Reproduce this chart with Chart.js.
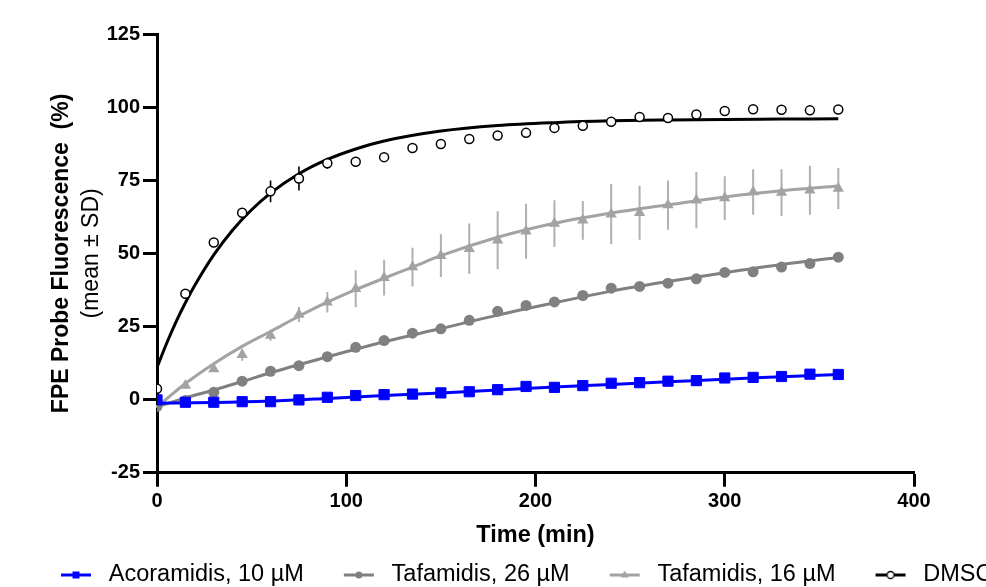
<!DOCTYPE html>
<html><head><meta charset="utf-8">
<script src="https://cdn.jsdelivr.net/npm/chart.js@4.4.1/dist/chart.umd.min.js"></script>
<style>html,body{margin:0;padding:0;overflow:hidden;background:#fff;width:986px;height:587px}canvas{display:block}</style>
</head><body>
<canvas id="c" width="1200" height="600"></canvas>
<script>
// ---- data ----
const times = [0,15,30,45,60,75,90,105,120,135,150,165,180,195,210,225,240,255,270,285,300,315,330,345,360];
const acoramidis = [-0.1,-0.9,-0.9,-0.7,-0.7,-0.1,0.8,1.4,1.7,1.9,2.3,2.7,3.4,4.5,4.2,4.8,5.6,5.8,6.3,6.5,7.4,7.6,7.9,8.7,8.6];
const tafamidis26 = [-2.3,-0.3,2.5,6.3,9.7,11.6,14.7,17.9,20.2,22.7,24.2,27.1,30.2,32.2,33.4,35.6,38.1,38.7,39.8,41.3,43.5,43.7,45.3,46.5,48.7];
const tafamidis16 = [-2.3,4.8,10.5,15.3,21.9,29.1,33.3,37.9,41.7,45.3,49.2,51.6,54.5,57.6,60.2,61.3,63.4,63.9,66.5,68.2,68.9,71.0,70.8,71.6,72.2];
const tafamidis16Sd = [0.5,1,1,2,1.8,2.6,3.5,6.3,6.1,6.6,7.3,8.6,9.9,9.4,8,6.6,10.3,9.2,8.4,9.6,7.5,7.8,8,8.4,7];
const dmso = [3.7,36.2,53.7,63.9,71.2,75.6,80.8,81.3,82.9,86,87.4,89.1,90.3,91.2,92.9,93.6,95,96.6,96.3,97.5,98.7,99.3,99.1,98.9,99.2];
const dmsoSd = [0.5,0.5,0.5,0.5,3.7,4.1,1.9,0.5,0.5,0.5,0.5,0.5,0.5,0.5,0.5,0.5,0.5,0.5,0.5,0.5,0.5,0.5,0.5,0.5,0.5];

// fitted curves
const acoFitT = [0,30,60,90,120,150,180,210,240,270,300,330,360];
const acoFit = [-1.2,-1.0,-0.5,0.4,1.4,2.3,3.3,4.3,5.2,6.1,7.0,7.8,8.6];
const taf26FitT = [0,15,30,45,60,90,120,150,180,210,240,270,300,330,360];
const taf26Fit = [-2.5,0.6,3.3,6.2,9.2,14.6,19.8,24.3,28.9,33.1,37.1,40.4,43.4,46.2,48.6];
const taf16FitT = [0,15,30,45,60,75,90,105,120,135,150,180,210,240,270,300,330,360];
const taf16Fit = [-2.5,5.5,12.3,18.2,23.3,28.5,33.3,37.6,41.5,45.3,49.2,55.5,60.3,63.8,66.6,69.3,71.4,73.0];
const dmsoFitT = [0,5,10,15,20,30,40,50,60,75,90,105,120,150,180,210,240,270,300,330,360];
const dmsoFit = [11,19.1,26.5,33.1,39.1,49.5,58.0,64.9,70.6,77.2,82.1,85.7,88.4,91.8,93.7,94.7,95.3,95.6,95.8,95.9,96.0];

const seriesLabels = ['Acoramidis, 10 µM','Tafamidis, 26 µM','Tafamidis, 16 µM','DMSO'];
const xTicks = [0,100,200,300,400];
const yTicks = [-25,0,25,50,75,100,125];
const xTitle = 'Time (min)';
const yTitle1 = 'FPE Probe Fluorescence  (%)';
const yTitle2 = '(mean ± SD)';

// ---- styling ----
const BLUE = '#0000FF', DARK = '#808080', LIGHT = '#A3A3A3', BLACK = '#000000';
const FONT = "'Liberation Sans', Arial, sans-serif";

const pts = (xs, ys) => xs.map((t, i) => ({x: t, y: ys[i]}));

function legendIcon(kind) {
  const c = document.createElement('canvas');
  c.width = 70; c.height = 20;
  const g = c.getContext('2d');
  const color = {sq: BLUE, ci: DARK, tr: LIGHT, op: BLACK}[kind];
  g.strokeStyle = color; g.lineWidth = 3;
  g.beginPath(); g.moveTo(34, 10); g.lineTo(64, 10); g.stroke();
  const cx = 49, cy = 10;
  g.fillStyle = color;
  if (kind === 'sq') { g.fillRect(cx - 3.5, cy - 3.5, 7, 7); }
  else if (kind === 'ci') { g.beginPath(); g.arc(cx, cy, 3.5, 0, Math.PI * 2); g.fill(); }
  else if (kind === 'tr') { g.beginPath(); g.moveTo(cx, cy - 4.5); g.lineTo(cx + 4, cy + 2.5); g.lineTo(cx - 4, cy + 2.5); g.closePath(); g.fill(); }
  else { g.beginPath(); g.arc(cx, cy, 3.5, 0, Math.PI * 2); g.fillStyle = '#fff'; g.fill(); g.lineWidth = 1.3; g.stroke(); }
  return c;
}
const icons = [legendIcon('sq'), legendIcon('ci'), legendIcon('tr'), legendIcon('op')];

const errorBarPlugin = {
  id: 'errorBars',
  beforeDatasetsDraw(chart) {
    const {ctx} = chart, xs = chart.scales.x, ys = chart.scales.y;
    const specs = [
      {m: tafamidis16, sd: tafamidis16Sd, color: '#B0B0B0', w: 2},
      {m: dmso, sd: dmsoSd, color: BLACK, w: 1.6}
    ];
    ctx.save();
    for (const s of specs) {
      ctx.strokeStyle = s.color; ctx.lineWidth = s.w;
      ctx.beginPath();
      times.forEach((t, i) => {
        const px = xs.getPixelForValue(t);
        ctx.moveTo(px, ys.getPixelForValue(s.m[i] - s.sd[i]));
        ctx.lineTo(px, ys.getPixelForValue(s.m[i] + s.sd[i]));
      });
      ctx.stroke();
    }
    ctx.restore();
  }
};

const pointSets = [
  {label: seriesLabels[0], data: pts(times, acoramidis), pointStyle: 'rect', pointRadius: 7.2, backgroundColor: BLUE, borderColor: BLUE, pointBorderWidth: 1},
  {label: 'fit-aco', data: pts(acoFitT, acoFit), fit: true, borderColor: BLUE, borderWidth: 3},
  {label: seriesLabels[1], data: pts(times, tafamidis26), pointStyle: 'circle', pointRadius: 5.5, backgroundColor: DARK, borderColor: DARK, pointBorderWidth: 0},
  {label: 'fit-26', data: pts(taf26FitT, taf26Fit), fit: true, borderColor: DARK, borderWidth: 3},
  {label: seriesLabels[2], data: pts(times, tafamidis16), pointStyle: 'triangle', pointRadius: 6.5, backgroundColor: LIGHT, borderColor: LIGHT, pointBorderWidth: 0},
  {label: 'fit-16', data: pts(taf16FitT, taf16Fit), fit: true, borderColor: LIGHT, borderWidth: 3},
  {label: seriesLabels[3], data: pts(times, dmso), pointStyle: 'circle', pointRadius: 4.5, backgroundColor: '#ffffff', borderColor: BLACK, pointBorderWidth: 1.5},
  {label: 'fit-dmso', data: pts(dmsoFitT, dmsoFit), fit: true, borderColor: BLACK, borderWidth: 3}
];
const datasets = pointSets.map(d => d.fit
  ? {label: d.label, data: d.data, showLine: true, pointRadius: 0, borderColor: d.borderColor, borderWidth: d.borderWidth, cubicInterpolationMode: 'monotone', fill: false}
  : {label: d.label, data: d.data, showLine: false, pointStyle: d.pointStyle, pointRadius: d.pointRadius, pointBackgroundColor: d.backgroundColor, pointBorderColor: d.borderColor, pointBorderWidth: d.pointBorderWidth, borderColor: d.borderColor, backgroundColor: d.backgroundColor});

const legendIdx = [0, 2, 4, 6];

new Chart(document.getElementById('c'), {
  type: 'line',
  data: {datasets},
  plugins: [errorBarPlugin],
  options: {
    responsive: false,
    animation: false,
    devicePixelRatio: 1,
    layout: {padding: {left: 21, right: 0, top: 34, bottom: 3.25}},
    plugins: {
      tooltip: {enabled: false},
      legend: {
        display: true,
        position: 'bottom',
        align: 'start',
        labels: {
          usePointStyle: true,
          pointStyleWidth: 70,
          padding: 6,
          color: '#000',
          font: {family: FONT, size: 23.5},
          generateLabels: (chart) => legendIdx.map((di, k) => ({
            text: chart.data.datasets[di].label,
            pointStyle: icons[k],
            fillStyle: 'rgba(0,0,0,0)', strokeStyle: 'rgba(0,0,0,0)', lineWidth: 0,
            fontColor: '#000', hidden: false, datasetIndex: di
          }))
        }
      }
    },
    scales: {
      x: {
        type: 'linear', position: 'bottom', min: 0, max: 400,
        afterBuildTicks: (s) => { s.ticks = xTicks.map(v => ({value: v})); },
        afterFit: (s) => { s.height = 84.5; },
        border: {display: true, width: 3, color: BLACK},
        grid: {display: true, drawOnChartArea: false, drawTicks: true, tickLength: 14, tickWidth: 3, tickColor: BLACK},
        ticks: {color: BLACK, padding: 3, maxRotation: 0, font: {family: FONT, size: 20, weight: 'bold'}},
        title: {display: true, text: xTitle, color: BLACK, padding: {top: 0, bottom: 7.4}, font: {family: FONT, size: 23.5, weight: 'bold'}}
      },
      y: {
        type: 'linear', position: 'left', min: -25, max: 125, weight: 0,
        afterBuildTicks: (s) => { s.ticks = yTicks.map(v => ({value: v})); },
        afterFit: (s) => { s.width = 81; },
        border: {display: true, width: 3, color: BLACK},
        grid: {display: true, drawOnChartArea: false, drawTicks: true, tickLength: 14, tickWidth: 3, tickColor: BLACK},
        ticks: {color: BLACK, padding: 3, font: {family: FONT, size: 20, weight: 'bold'}},
        title: {display: true, text: yTitle2, color: BLACK, padding: {top: 1.5, bottom: 0}, font: {family: FONT, size: 23, weight: 'normal'}}
      },
      yt: {
        type: 'linear', position: 'left', weight: 1, min: 0, max: 1,
        afterFit: (s) => { s.width = 55; },
        border: {display: false}, grid: {display: false},
        ticks: {display: false},
        title: {display: true, text: yTitle1, color: BLACK, padding: {top: 27, bottom: 0}, font: {family: FONT, size: 23, weight: 'bold'}}
      },
      yr: {
        type: 'linear', position: 'right', min: 0, max: 1,
        afterFit: (s) => { s.width = 286; },
        border: {display: false}, grid: {display: false},
        ticks: {display: false}, title: {display: false}
      }
    }
  }
});
</script>
</body></html>
